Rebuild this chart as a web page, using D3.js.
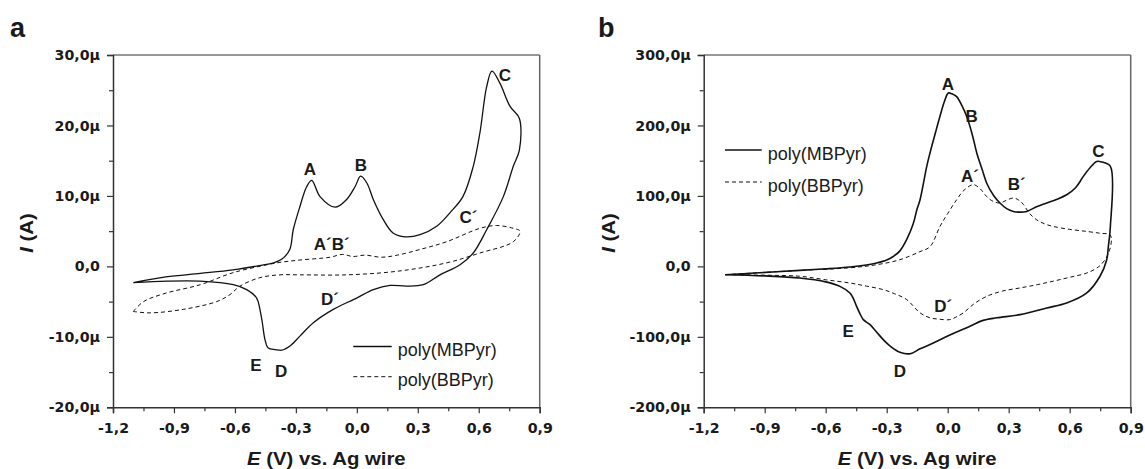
<!DOCTYPE html>
<html>
<head>
<meta charset="utf-8">
<script src="https://cdn.jsdelivr.net/npm/d3@7"></script>
<style>
  body { margin: 0; background: #fff; }
  svg { display: block; }
  text { font-family: "Liberation Sans", Arial, Helvetica, sans-serif; fill: #1a1a1a; }
</style>
</head>
<body>
<svg id="fig" width="1145" height="469"></svg>
<script>
// ---- axis ticks -------------------------------------------------------
const potentialTicks = [-1.2, -0.9, -0.6, -0.3, 0.0, 0.3, 0.6, 0.9];
const potentialMinor = [-1.05, -0.75, -0.45, -0.15, 0.15, 0.45, 0.75];
const currentTicksA = [-20, -10, 0, 10, 20, 30];
const currentMinorA = [-15, -5, 5, 15, 25];
const currentTicksB = [-200, -100, 0, 100, 200, 300];
const currentMinorB = [-150, -50, 50, 150, 250];

// ---- panel a: poly(MBPyr), E in V, I in µA ----------------------------
const mbpyrA_E = [-1.10, -0.94, -0.77, -0.61, -0.48, -0.41, -0.37, -0.33, -0.313, -0.28, -0.247, -0.222, -0.181, -0.107,
  -0.05, -0.009, 0.019, 0.05, 0.081, 0.131, 0.18, 0.237, 0.311, 0.393, 0.458, 0.522, 0.573, 0.606, 0.639, 0.665, 0.704, 0.754, 0.80,
  0.800, 0.77, 0.721, 0.639, 0.573, 0.508, 0.409, 0.327, 0.245, 0.163, 0.081, -0.001, -0.116, -0.214, -0.28, -0.329, -0.37, -0.40,
  -0.436, -0.452, -0.465, -0.477, -0.493, -0.542, -0.608, -0.772, -0.936, -1.10];
const mbpyrA_I = [-2.3, -1.5, -1.0, -0.5, 0.1, 0.5, 1.0, 2.4, 5.2, 8.5, 11.3, 12.2, 9.9, 8.4,
  9.5, 11.3, 12.8, 11.8, 9.5, 6.6, 4.7, 4.2, 4.5, 5.7, 7.6, 9.9, 14.2, 19.0, 25.5, 27.7, 26.0, 22.7, 21.0,
  16.5, 14.2, 9.9, 5.2, 1.9, 0.24, -1.2, -2.6, -2.8, -2.7, -3.3, -4.5, -6.1, -8.0, -9.9, -11.3, -11.9, -11.8,
  -11.6, -10.4, -8.0, -6.1, -4.5, -3.3, -2.6, -2.1, -2.1, -2.3];

// ---- panel a: poly(BBPyr) ---------------------------------------------
const bbpyrA_E = [-1.10, -1.05, -0.94, -0.77, -0.61, -0.44, -0.378, -0.28, -0.132, -0.07, -0.02, 0.04, 0.12, 0.20, 0.311, 0.442, 0.606, 0.688, 0.77, 0.803,
  0.77, 0.606, 0.442, 0.196, -0.05, -0.28, -0.378, -0.477, -0.575, -0.624, -0.69, -0.854, -1.018, -1.10];
const bbpyrA_I = [-6.4, -5.0, -3.8, -2.6, -0.9, 0.24, 0.57, 0.9, 1.3, 1.7, 1.4, 1.6, 1.3, 1.6, 2.4, 3.5, 5.4, 5.8, 5.4, 5.0,
  3.5, 1.9, 0.5, -0.7, -1.2, -1.2, -1.2, -1.6, -2.8, -4.0, -5.0, -6.1, -6.6, -6.4];

// ---- panel b: poly(MBPyr) ---------------------------------------------
const mbpyrB_E = [-1.095, -0.95, -0.727, -0.60, -0.481, -0.40, -0.349, -0.30, -0.268, -0.235, -0.202, -0.17, -0.152, -0.136, -0.103, -0.087,
  -0.06, -0.038, -0.015, 0.003, 0.02, 0.044, 0.07, 0.093, 0.12, 0.143, 0.17, 0.192, 0.225, 0.257, 0.29, 0.323, 0.356, 0.389, 0.44, 0.487,
  0.535, 0.585, 0.63, 0.667, 0.70, 0.733, 0.76, 0.800,
  0.800, 0.790, 0.782, 0.749, 0.684, 0.585, 0.487, 0.356, 0.241, 0.17, 0.11, 0.03, -0.038, -0.087, -0.136, -0.185, -0.235, -0.28, -0.317,
  -0.35, -0.382, -0.415, -0.43, -0.448, -0.465, -0.481, -0.53, -0.60, -0.727, -0.90, -1.095];
const mbpyrB_I = [-11.8, -9.5, -5.7, -3.5, -0.9, 2.0, 4.8, 9.0, 14.0, 22.0, 37.9, 60.0, 80.0, 94.6, 142.0, 161.0,
  190.0, 213.0, 235.0, 246.0, 245.0, 241.0, 228.0, 213.0, 188.0, 161.0, 137.0, 118.0, 101.0, 90.0, 82.0, 78.0, 77.0, 78.0, 85.0, 90.0,
  95.0, 101.7, 112.0, 127.7, 140.0, 149.0, 148.0, 142.0,
  56.7, 28.0, 9.5, -14.0, -37.7, -52.0, -59.0, -68.5, -73.0, -77.0, -85.0, -95.0, -104.0, -111.0, -117.0, -124.0, -122.0, -114.0, -104.0,
  -93.0, -82.7, -75.6, -68.0, -56.7, -45.0, -37.7, -28.4, -22.0, -16.5, -13.5, -11.8];

// ---- panel b: poly(BBPyr) ---------------------------------------------
const bbpyrB_E = [-1.095, -0.727, -0.481, -0.349, -0.235, -0.136, -0.087, -0.038, 0.0, 0.044, 0.08, 0.126, 0.16, 0.192, 0.225, 0.257,
  0.29, 0.323, 0.35, 0.372, 0.40, 0.438, 0.48, 0.519, 0.60, 0.684, 0.75, 0.798,
  0.805, 0.795, 0.774, 0.74, 0.684, 0.60, 0.519, 0.44, 0.356, 0.27, 0.192, 0.13, 0.077, 0.04, 0.011, -0.04, -0.087, -0.136, -0.202,
  -0.26, -0.317, -0.40, -0.481, -0.60, -0.727, -0.90, -1.095];
const bbpyrB_I = [-11.8, -5.7, -2.0, 2.4, 9.5, 21.0, 28.0, 56.7, 75.0, 94.6, 108.0, 116.0, 110.0, 99.0, 92.0, 90.0,
  94.0, 97.0, 94.0, 88.0, 76.0, 66.0, 60.0, 56.7, 52.5, 49.6, 47.0, 45.0,
  38.0, 22.0, 9.5, -1.0, -9.4, -15.5, -21.0, -26.0, -30.6, -35.0, -42.5, -53.0, -66.0, -72.0, -75.6, -75.0, -73.0, -66.0, -47.0,
  -39.0, -33.0, -28.0, -23.6, -19.0, -14.0, -12.5, -11.8];

// ---- peak labels (E, I) ------------------------------------------------
const peakNamesA = ["A", "B", "C", "C\u00B4", "A\u00B4B\u00B4", "D\u00B4", "E", "D"];
const peakE_A = [-0.231, 0.020, 0.729, 0.549, -0.124, -0.132, -0.496, -0.373];
const peakI_A = [13.7, 14.3, 27.1, 6.9, 3.1, -4.7, -14.1, -14.9];
const peakNamesB = ["A", "B", "A\u00B4", "B\u00B4", "C", "D\u00B4", "D", "E"];
const peakE_B = [0.001, 0.118, 0.110, 0.339, 0.741, -0.022, -0.235, -0.489];
const peakI_B = [257.7, 212.8, 127.7, 115.9, 163.0, -56.7, -149.0, -92.2];

const seriesNames = ["poly(MBPyr)", "poly(BBPyr)"];

// ---- helpers -----------------------------------------------------------
const loc = d3.formatLocale({ decimal: ",", thousands: ".", grouping: [3], currency: ["", ""], minus: "-" });
const f1 = loc.format(".1f");
const fmtE = v => f1(v);
const fmtI = v => (v === 0 ? "0,0" : f1(v) + "µ");

// widen glyphs horizontally
function stretch(sel, k) {
  sel.each(function () {
    const w = this.getComputedTextLength();
    this.setAttribute("textLength", (w * k).toFixed(2));
    this.setAttribute("lengthAdjust", "spacingAndGlyphs");
  });
}

const svg = d3.select("#fig");

function drawPanel(cfg) {
  const g = svg.append("g");
  const x = d3.scaleLinear().domain([-1.2, 0.9]).range([cfg.left, cfg.left + cfg.width]);
  const y = d3.scaleLinear().domain(cfg.yDomain).range([cfg.top + cfg.height, cfg.top]);
  const bottom = cfg.top + cfg.height;

  // curves
  const line = d3.line().x(d => x(d[0])).y(d => y(d[1])).curve(d3.curveCatmullRom.alpha(0.5));
  const solid = cfg.solidE.map((e, i) => [e, cfg.solidI[i]]);
  const dashed = cfg.dashE.map((e, i) => [e, cfg.dashI[i]]);
  g.append("path").attr("d", line(dashed)).attr("fill", "none").attr("stroke", "#111")
    .attr("stroke-width", 1).attr("stroke-dasharray", "4,3");
  g.append("path").attr("d", line(solid)).attr("fill", "none").attr("stroke", "#111")
    .attr("stroke-width", cfg.solidWidth);

  // frame: top and right
  g.append("line").attr("x1", cfg.left).attr("x2", cfg.left + cfg.width).attr("y1", cfg.top).attr("y2", cfg.top)
    .attr("stroke", "#333").attr("stroke-width", 1.2);
  g.append("line").attr("x1", cfg.left + cfg.width).attr("x2", cfg.left + cfg.width).attr("y1", cfg.top).attr("y2", bottom)
    .attr("stroke", "#666").attr("stroke-width", 1.5);

  // x axis
  const xa = g.append("g").attr("transform", `translate(0,${bottom})`)
    .call(d3.axisBottom(x).tickValues(potentialTicks).tickSize(6).tickPadding(10).tickFormat(fmtE));
  g.append("g").attr("transform", `translate(0,${bottom})`)
    .call(d3.axisBottom(x).tickValues(potentialMinor).tickSize(4).tickFormat(""))
    .call(s => s.select(".domain").remove());
  // y axis
  const ya = g.append("g").attr("transform", `translate(${cfg.left},0)`)
    .call(d3.axisLeft(y).tickValues(cfg.yTicks).tickSize(6).tickPadding(7).tickFormat(fmtI));
  g.append("g").attr("transform", `translate(${cfg.left},0)`)
    .call(d3.axisLeft(y).tickValues(cfg.yMinor).tickSize(4).tickFormat(""))
    .call(s => s.select(".domain").remove());

  g.selectAll(".domain").attr("stroke", "#333").attr("stroke-width", 1.5);
  g.selectAll(".tick line").attr("stroke", "#333").attr("stroke-width", 1.2);
  [xa, ya].forEach(a => a.selectAll("text")
    .style("font-family", "'DejaVu Sans', Verdana, sans-serif")
    .style("font-weight", "bold").style("font-size", "14.2px").style("fill", "#1a1a1a"));

  // axis titles
  const xt = g.append("text").attr("x", cfg.left + cfg.width / 2).attr("y", 465)
    .attr("text-anchor", "middle").attr("font-size", 18.5).attr("font-weight", "bold");
  xt.append("tspan").attr("font-style", "italic").text("E");
  xt.append("tspan").text(" (V) vs. Ag wire");
  stretch(xt, 1.1);

  const yt = g.append("text").attr("transform", `translate(${cfg.yTitleX},233) rotate(-90)`)
    .attr("text-anchor", "middle").attr("font-size", 18.5).attr("font-weight", "bold");
  yt.append("tspan").attr("font-style", "italic").text("I");
  yt.append("tspan").text(" (A)");
  stretch(yt, 1.1);

  // panel letter
  g.append("text").attr("x", cfg.letterX).attr("y", 37).attr("font-size", 27).attr("font-weight", "bold").text(cfg.letter);

  // peak labels
  cfg.peakNames.forEach((n, i) => {
    g.append("text").attr("x", x(cfg.peakE[i])).attr("y", y(cfg.peakI[i]))
      .attr("text-anchor", "middle").attr("dominant-baseline", "central")
      .attr("font-size", 17).attr("font-weight", "bold").text(n);
  });

  // legend
  const lg = cfg.legend;
  [0, 1].forEach(k => {
    const ly = lg.y + k * lg.dy;
    g.append("line").attr("x1", lg.x).attr("x2", lg.x + lg.len).attr("y1", ly).attr("y2", ly)
      .attr("stroke", "#111").attr("stroke-width", k === 0 ? cfg.solidWidth : 1)
      .attr("stroke-dasharray", k === 0 ? null : "4,3");
    g.append("text").attr("x", lg.x + lg.len + 6).attr("y", ly + 9.5)
      .attr("font-size", 18).text(seriesNames[k]);
  });
}

drawPanel({
  letter: "a", letterX: 10,
  left: 113, top: 55, width: 426.7, height: 352.3,
  yDomain: [-20, 30], yTicks: currentTicksA, yMinor: currentMinorA, yTitleX: 33,
  solidE: mbpyrA_E, solidI: mbpyrA_I, dashE: bbpyrA_E, dashI: bbpyrA_I, solidWidth: 1.3,
  peakNames: peakNamesA, peakE: peakE_A, peakI: peakI_A,
  legend: { x: 353.3, y: 346.5, dy: 30.2, len: 38.4 }
});

drawPanel({
  letter: "b", letterX: 598,
  left: 703.7, top: 55, width: 427, height: 352.3,
  yDomain: [-200, 300], yTicks: currentTicksB, yMinor: currentMinorB, yTitleX: 615,
  solidE: mbpyrB_E, solidI: mbpyrB_I, dashE: bbpyrB_E, dashI: bbpyrB_I, solidWidth: 1.6,
  peakNames: peakNamesB, peakE: peakE_B, peakI: peakI_B,
  legend: { x: 725, y: 150, dy: 32, len: 36.7 }
});
</script>
</body>
</html>
